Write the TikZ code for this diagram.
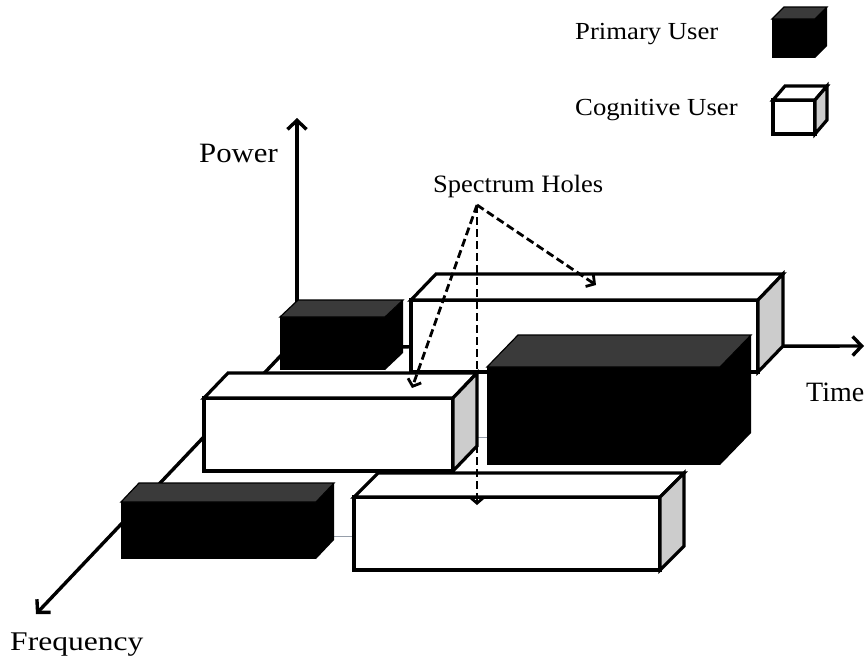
\documentclass[tikz,border=0pt]{standalone}
\usepackage{fontspec}
\setmainfont{Liberation Serif}
\usepackage{graphicx}
\usetikzlibrary{arrows.meta}
\definecolor{sidegray}{RGB}{204,204,204}
\definecolor{topgray}{RGB}{58,58,58}
\definecolor{gridgray}{RGB}{150,158,170}
\tikzset{
  boxedge/.style={draw=black, line width=3.2pt, line join=miter},
  axisline/.style={line width=3.4pt, -{Straight Barb[length=9pt,width=19pt,line width=3.4pt]}},
  holearrow/.style={line width=2.8pt, dash pattern=on 8pt off 4pt, -{Straight Barb[length=6pt,width=14pt,line width=2.8pt]}},
  gridline/.style={draw=gridgray, line width=1pt},
  biglab/.style={anchor=base west, inner sep=0pt, font=\fontsize{28}{30}\selectfont},
  smalllab/.style={anchor=base west, inner sep=0pt, font=\fontsize{24.5}{27}\selectfont},
}
% #1 name, #2 x1, #3 y1, #4 x2, #5 y2 (front face), #6 dx, #7 dy (depth)
\newcommand\MyWhiteBox[7]{%
  \draw[boxedge, fill=white] (#2,#3) rectangle (#4,#5);
  \draw[boxedge, fill=white] (#2,#3) -- ({#2+#6},{#3-#7}) -- ({#4+#6},{#3-#7}) -- (#4,#3) -- cycle;
  \draw[boxedge, fill=sidegray] (#4,#3) -- ({#4+#6},{#3-#7}) -- ({#4+#6},{#5-#7}) -- (#4,#5) -- cycle;
  \coordinate (#1) at ({(#2+#4)/2},{(#3+#5)/2});
}
\newcommand\MyBlackBox[7]{%
  \fill[black] (#2,#3) rectangle (#4,#5);
  \fill[black] (#4,#3) -- ({#4+#6},{#3-#7}) -- ({#4+#6},{#5-#7}) -- (#4,#5) -- cycle;
  \filldraw[fill=topgray, draw=black, line width=1.2pt, line join=miter] (#2,#3) -- ({#2+#6},{#3-#7}) -- ({#4+#6},{#3-#7}) -- (#4,#3) -- cycle;
  \coordinate (#1) at ({(#2+#4)/2},{(#3+#5)/2});
}
\begin{document}
\begin{tikzpicture}[x=1pt, y=-1pt]
\useasboundingbox (0,0) rectangle (867,662);

% axes and grid lines (behind the boxes)
\coordinate (origin) at (289,347);
\coordinate (powertip) at (297,118);
\coordinate (powerfoot) at (297,303);
\coordinate (timetip) at (864,346);
\coordinate (freqtip) at (36,614);
\coordinate (g1a) at (204,437);
\coordinate (g1b) at (600,437);
\coordinate (g2a) at (130,536);
\coordinate (g2b) at (600,536);
\draw[gridline] (g1a) -- (g1b);
\draw[gridline] (g2a) -- (g2b);
\draw[axisline] (origin) -- (timetip);
\draw[axisline] (origin) -- (freqtip);
\draw[axisline] (powerfoot) -- (powertip);

% boxes, back to front
\MyBlackBox{pu1}{280}{317}{385}{370}{18}{17}
\MyWhiteBox{cu1}{411}{300}{758}{372}{25}{26}
\MyBlackBox{pu2}{487}{367}{720}{465}{31}{32}
\MyWhiteBox{cu2}{204}{398}{453}{471}{24}{25}
\MyBlackBox{pu3}{121}{502}{316}{559}{18}{19}
\MyWhiteBox{cu3}{354}{497}{660}{570}{24}{24}

% legend
\MyBlackBox{legpu}{772}{19}{815}{58}{12}{12}
\MyWhiteBox{legcu}{773}{100}{815}{134}{12}{14}
\node[smalllab] (primary) at (575,39) {\scalebox{1.09}[1]{Primary User}};
\node[smalllab] (cognitive) at (575,115) {\scalebox{1.09}[1]{Cognitive User}};

% labels
\node[biglab] (power) at (199,162) {\scalebox{1.1}[1]{Power}};
\node[biglab] (time) at (806,401) {\scalebox{1.0}[1]{Time}};
\node[biglab, font=\fontsize{27}{30}\selectfont] (frequency) at (10,650) {\scalebox{1.17}[1]{Frequency}};
\node[smalllab, font=\fontsize{25}{28}\selectfont] (holes) at (433,192) {\scalebox{1.06}[1]{Spectrum Holes}};

% spectrum hole arrows
\coordinate (src) at (477,205);
\coordinate (h1) at (596,285);
\coordinate (h2) at (412,388);
\coordinate (h3) at (477,505);
\draw[holearrow] (src) -- (h1);
\draw[holearrow] (src) -- (h2);
\draw[holearrow] (src) -- (h3);
\end{tikzpicture}
\end{document}
